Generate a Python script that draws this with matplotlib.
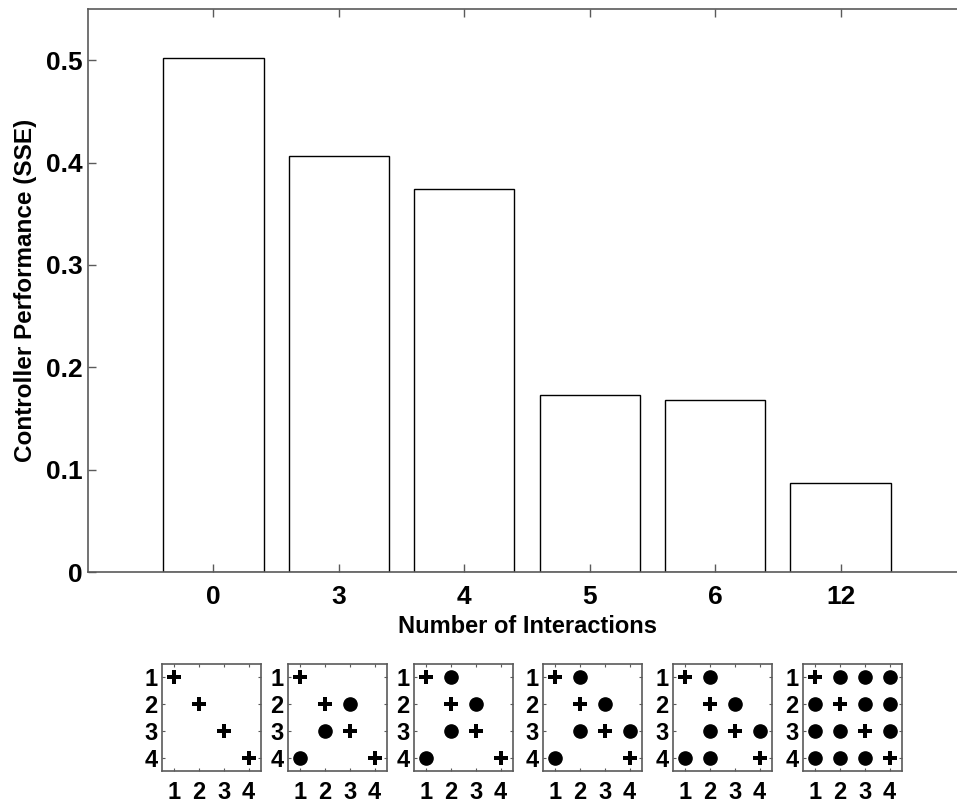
import matplotlib
matplotlib.use("Agg")
import matplotlib.pyplot as plt
import numpy as np

plt.rcParams['font.family'] = ['Liberation Sans', 'DejaVu Sans']
plt.rcParams['font.weight'] = 'bold'

# Number of interactions per controller structure and its performance
interactions = ["0", "3", "4", "5", "6", "12"]
sse = [0.502, 0.406, 0.374, 0.173, 0.168, 0.087]
y_ticks = [0, 0.1, 0.2, 0.3, 0.4, 0.5]
y_tick_labels = ["0", "0.1", "0.2", "0.3", "0.4", "0.5"]

# Off-diagonal interaction entries (row, col) for each structure
interaction_cells = [
    [],
    [(2, 3), (3, 2), (4, 1)],
    [(1, 2), (2, 3), (3, 2), (4, 1)],
    [(1, 2), (2, 3), (3, 2), (3, 4), (4, 1)],
    [(1, 2), (2, 3), (3, 2), (3, 4), (4, 1), (4, 2)],
    [(1, 2), (1, 3), (1, 4), (2, 1), (2, 3), (2, 4),
     (3, 1), (3, 2), (3, 4), (4, 1), (4, 2), (4, 3)],
]
loop_index = [1, 2, 3, 4]

W, H = 957, 805
fig = plt.figure(figsize=(W / 100, H / 100), dpi=100)


def px_axes(left, top, right, bottom):
    return fig.add_axes([left / W, 1 - bottom / H, (right - left) / W, (bottom - top) / H])


spine_col = "#5a5a5a"

ax = px_axes(88, 9, 966, 572)
xpos = np.arange(1, len(sse) + 1)
ax.bar(xpos, sse, width=0.8, facecolor="white", edgecolor="black", linewidth=1.0)
ax.set_xlim(0, 7)
ax.set_ylim(0, 0.55)
ax.set_xticks(xpos)
ax.set_xticklabels(interactions)
ax.set_yticks(y_ticks)
ax.set_yticklabels(y_tick_labels)
ax.tick_params(direction="in", length=6, width=1, color=spine_col,
               top=True, right=True, labelsize=19)
ax.tick_params(axis="x", pad=9)
ax.tick_params(axis="y", pad=4)
for s in ax.spines.values():
    s.set_color(spine_col)
    s.set_linewidth(1.2)
ax.set_xlabel("Number of Interactions", fontsize=17, fontweight="bold", labelpad=5)
ax.set_ylabel("Controller Performance (SSE)", fontsize=17.5, fontweight="bold", labelpad=6)

# Small interaction-structure matrices beneath the bars
lefts = [162, 288, 414, 543, 673, 803]
for left, cells in zip(lefts, interaction_cells):
    m = px_axes(left, 664, left + 99, 771)
    m.plot(loop_index, loop_index, linestyle="none", marker="P", color="black",
           markersize=9.5, markeredgewidth=0)
    if cells:
        rows = [r for r, c in cells]
        cols = [c for r, c in cells]
        m.plot(cols, rows, linestyle="none", marker="o", color="black", markersize=9.5)
    m.set_xlim(0.5, 4.5)
    m.set_ylim(4.5, 0.5)
    m.set_xticks(loop_index)
    m.set_yticks(loop_index)
    m.tick_params(direction="in", length=2, width=0.8, color=spine_col,
                  top=True, right=True, labelsize=17)
    m.tick_params(axis="x", pad=7)
    m.tick_params(axis="y", pad=3)
    for s in m.spines.values():
        s.set_color(spine_col)
        s.set_linewidth(1.2)

fig.savefig("out.png", dpi=100)
